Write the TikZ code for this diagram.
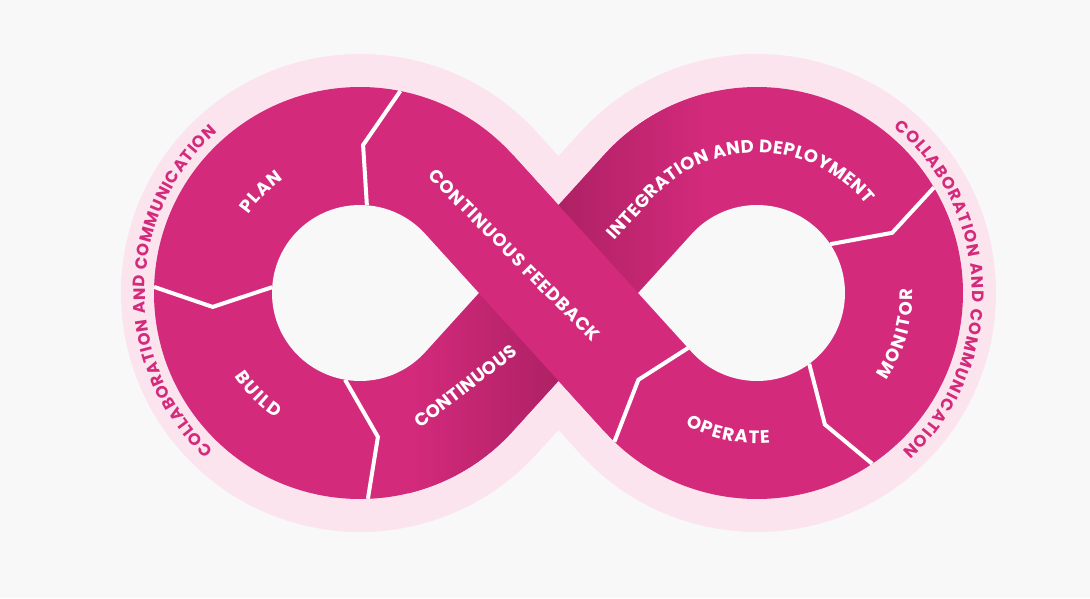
\documentclass[tikz,border=0pt]{standalone}
\usepackage{fontspec}
\setmainfont{Poppins}
\usetikzlibrary{calc,decorations.text}
\definecolor{infBg}{HTML}{F8F8F8}
\definecolor{infHalo}{HTML}{FBE4EE}
\definecolor{infMag}{HTML}{D42A7C}
\definecolor{infDark}{HTML}{AE2165}
\newcommand{\lblfont}{\bfseries\fontsize{18}{18}\selectfont}
\newcommand{\halofont}{\bfseries\fontsize{16.5}{16.5}\selectfont}
\newcommand{\infoutline}{($(L)+(42.2:206)$) arc[start angle=42.2, end angle=317.8, radius=206]
  -- (0,-87.8) -- ($(Rr)+(222.2:206)$) arc[start angle=222.2, end angle=497.8, radius=206]
  -- (0,87.8) -- cycle}
\tikzset{
  halo/.style={fill=infHalo, draw=infHalo, line width=66pt, line join=miter},
  band/.style={fill=infMag},
  hole/.style={fill=infBg},
  divider/.style={draw=white, line width=4pt},
  arclabel/.style={decorate, decoration={text along path, text align={fit to path},
    text={|\lblfont\color{white}|#1}}},
  halolabel/.style={decorate, decoration={text along path, text align={fit to path},
    text={|\halofont\color{infMag}|#1}}}
}
\begin{document}
\begin{tikzpicture}[x=1pt, y=1pt]
  \coordinate (L) at (-198.5,0);
  \coordinate (Rr) at (198.5,0);
  \fill[infBg] (-558.5,-305) rectangle (531.5,293);

  % halo and band
  \path[halo] \infoutline;
  \path[band] \infoutline;

  % strip passing underneath, darker near the crossing
  \begin{scope}
    \clip \infoutline;
    \shade[left color=infMag, right color=infMag, middle color=infDark]
      (-150,-260) rectangle (0,0) (0,0) rectangle (150,260);
  \end{scope}
  % strip on top
  \fill[infMag] ($(L)+(42.2:206)$) -- ($(Rr)+(222.2:88)$) -- ($(Rr)+(222.2:206)$)
    -- ($(L)+(42.2:88)$) -- cycle;

  % holes
  \fill[hole] ($(L)+(42.2:88)$) arc[start angle=42.2, end angle=317.8, radius=88] -- (-79.7,0) -- cycle;
  \fill[hole] ($(Rr)+(222.2:88)$) arc[start angle=222.2, end angle=497.8, radius=88] -- (79.7,0) -- cycle;

  % left lobe
  \begin{scope}[shift={(L)}]
    \draw[divider] (78.7:206) -- (88.8:148) -- (85.5:88);
    \draw[divider] (178.3:206) -- (185.4:148) -- (176.2:88);
    \draw[divider] (260.2:88) -- (277.1:145) -- (272.2:206);
    \path[arclabel=PLAN] (145:136.5) arc[start angle=145, end angle=124, radius=136.5];
    \path[arclabel=BUILD] (213.5:150.5) arc[start angle=213.5, end angle=236.3, radius=150.5];
    \path[halolabel={COLLABORATION AND COMMUNICATION}] (227:215) arc[start angle=227, end angle=131.5, radius=215];
  \end{scope}

  % right lobe
  \begin{scope}[shift={(Rr)}]
    \draw[divider] (30.8:206) -- (24:148) -- (33.7:88);
    \draw[divider] (306.4:88) -- (297.3:148) -- (304:206);
    \draw[divider] (218.6:88) -- (216.2:147) -- (226.2:206);
    \path[arclabel={INTEGRATION AND DEPLOYMENT}] ($(137.8:140.5)+(227.8:57)$) -- (137.8:140.5)
      arc[start angle=137.8, end angle=39, radius=140.5];
    \path[arclabel=MONITOR] (-34:156) arc[start angle=-34, end angle=1.5, radius=156];
    \path[arclabel=OPERATE] (241.5:150.5) arc[start angle=241.5, end angle=275, radius=150.5];
    \path[halolabel={COLLABORATION AND COMMUNICATION}] (50.5:215) arc[start angle=50.5, end angle=-47.5, radius=215];
  \end{scope}

  % crossing labels
  \path[arclabel={CONTINUOUS FEEDBACK}] (-131.3,116.7) -- (33.6,-49.9);
  \path[arclabel=CONTINUOUS] (-138.4,-135.8) -- (-39.8,-60.6);
\end{tikzpicture}
\end{document}
